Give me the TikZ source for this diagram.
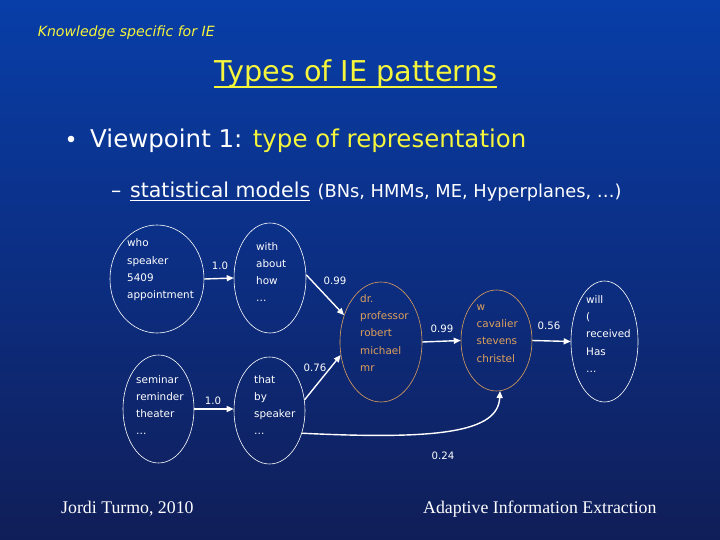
\documentclass[tikz,border=0pt]{standalone}
\usepackage{fontspec}
\setmainfont{DejaVu Sans}
\newfontfamily\timesf{Liberation Serif}
\usetikzlibrary{shapes.geometric,arrows.meta}
\definecolor{bgdark}{RGB}{16,30,88}
\definecolor{bgmid}{RGB}{12,46,130}
\definecolor{bglight}{RGB}{8,62,168}
\definecolor{yellowc}{RGB}{245,245,60}
\definecolor{orangec}{RGB}{222,160,92}
\tikzset{
  ell/.style={draw=white, line width=0.6pt, ellipse, inner sep=0pt},
  ellor/.style={ell, draw=orangec},
  words/.style={anchor=west, align=left, inner sep=0pt, font=\fontsize{10.4}{17.3}\selectfont, text=white},
  wordsor/.style={words, text=orangec},
  lab/.style={inner sep=0pt, font=\fontsize{10.2}{12}\selectfont, text=white},
  arr/.style={draw=white, line width=1.4pt, -{Triangle[length=7pt,width=6pt]}},
  txt/.style={inner sep=0pt, anchor=base west},
}
\begin{document}
\begin{tikzpicture}[x=1pt,y=-1pt]
\useasboundingbox (0,0) rectangle (720,540);
\shade[shading angle=-45, top color=bglight, bottom color=bgdark, middle color=bgmid] (0,0) rectangle (720,540);

% header texts
\node[txt, text=yellowc, font=\itshape\fontsize{14.1}{16}\selectfont] (hdr) at (37.6,37) {Knowledge specific for IE};
\node[txt, text=yellowc, font=\fontsize{28.7}{32}\selectfont] (title) at (214,82) {Types of IE patterns};
\draw[yellowc, line width=1.8pt] ([yshift=-5pt]title.base west) -- ([yshift=-5pt]title.base east);
\fill[white] (71,139) circle (3.3);
\node[txt, text=white, font=\fontsize{24.5}{28}\selectfont] (vp) at (90,148) {Viewpoint 1: \textcolor{yellowc}{type of representation}};
\node[txt, text=white, font=\fontsize{20.5}{24}\selectfont] (dash) at (111,197) {–};
\node[txt, text=white, font=\fontsize{20.5}{24}\selectfont] (stat) at (130,197) {statistical models};
\draw[white, line width=1.5pt] ([yshift=-3.5pt]stat.base west) -- ([yshift=-3.5pt]stat.base east);
\node[txt, text=white, font=\fontsize{17.8}{20}\selectfont] (par) at (317.5,197) {(BNs, HMMs, ME, Hyperplanes, …)};

% ellipses
\node[ell, minimum width=94, minimum height=108] (e1) at (157,279) {};
\node[ell, minimum width=72, minimum height=110] (e2) at (270,278) {};
\node[ell, minimum width=71, minimum height=108] (e3) at (158.5,409) {};
\node[ell, minimum width=71, minimum height=107] (e4) at (269.5,410.5) {};
\node[ellor, minimum width=82, minimum height=120] (e5) at (381,342) {};
\node[ellor, minimum width=71, minimum height=101] (e6) at (496.5,340.5) {};
\node[ell, minimum width=67, minimum height=121] (e7) at (604.5,341.5) {};

% ellipse texts
\node[words] (t1) at (127,270) {who\\speaker\\5409\\appointment};
\node[words] (t2) at (256,272) {with\\about\\how\\…};
\node[words] (t3) at (136,405) {seminar\\reminder\\theater\\…};
\node[words] (t4) at (254,405) {that\\by\\speaker\\…};
\node[wordsor] (t5) at (360,333) {dr.\\professor\\robert\\michael\\mr};
\node[wordsor] (t6) at (476.5,333.5) {w\\cavalier\\stevens\\christel};
\node[words] (t7) at (586,334) {will\\(\\received\\Has\\…};

% connectors
\draw[arr] (e1.east) -- (e2.west);
\draw[arr] (e3.east) -- (e3.east -| e4.west);
\draw[arr] (e2.5) -- (e5.144);
\draw[arr] (e4.17) -- (e5.198);
\draw[arr] (e5.east) -- (e6.west);
\draw[arr] (e6.east) -- (e7.west);
\draw[arr] (e4.-35) .. controls (440,440) and (498,432) .. (e6.-86);

% labels
\node[lab] (l1) at (220,266) {1.0};
\node[lab] (l2) at (213,401) {1.0};
\node[lab] (l3) at (335,281) {0.99};
\node[lab] (l4) at (315,368) {0.76};
\node[lab] (l5) at (442,329) {0.99};
\node[lab] (l6) at (549,326) {0.56};
\node[lab] (l7) at (443,456) {0.24};

% footer
\node[txt, text=white, font=\timesf\fontsize{17.8}{20}\selectfont] (f1) at (61,513) {Jordi Turmo, 2010};
\node[txt, text=white, font=\timesf\fontsize{17.8}{20}\selectfont] (f2) at (423,513) {Adaptive Information Extraction};
\end{tikzpicture}
\end{document}
